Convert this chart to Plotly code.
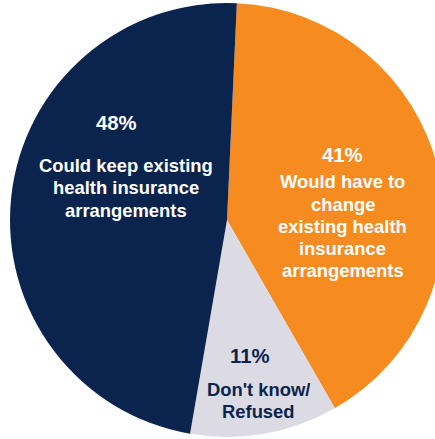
import plotly.graph_objects as go

# Data
categories = ["Would have to change existing health insurance arrangements",
              "Don't know/ Refused",
              "Could keep existing health insurance arrangements"]
values = [41, 11, 48]
colors = ["#F68B1F", "#DCDBE3", "#0B244E"]

pct_labels = ["41%", "11%", "48%"]
label_lines = [
    ["Would have to", "change", "existing health", "insurance", "arrangements"],
    ["Don't know/", "Refused"],
    ["Could keep existing", "health insurance", "arrangements"],
]
text_colors = ["#FFFFFF", "#0B244E", "#FFFFFF"]

W, H = 454, 439

fig = go.Figure(go.Pie(
    labels=categories,
    values=values,
    marker=dict(colors=colors, line=dict(width=0)),
    sort=False,
    direction="clockwise",
    rotation=2.6,
    textinfo="none",
    hoverinfo="label+percent",
    domain=dict(x=[0, 1], y=[2 / H, 1 - 3 / H]),
    showlegend=False,
))

# label placement (pixel positions of text blocks)
pct_pos = [(342, 155), (250, 356), (116, 123)]
line_pos = [
    (342.5, [181.7, 204, 226.3, 248.7, 270.7]),
    (258.3, [389.3, 411.3]),
    (126, [165.7, 187.7, 210.3]),
]

font_family = "Arial, Liberation Sans, sans-serif"
annotations = []
for i in range(len(values)):
    px, py = pct_pos[i]
    annotations.append(dict(
        x=px / W, y=1 - py / H, xref="paper", yref="paper",
        text="<b>" + pct_labels[i] + "</b>", showarrow=False,
        xanchor="center", yanchor="middle",
        font=dict(family=font_family, size=20.3, color=text_colors[i]),
    ))
    lx, lys = line_pos[i]
    for line, ly in zip(label_lines[i], lys):
        annotations.append(dict(
            x=lx / W, y=1 - ly / H, xref="paper", yref="paper",
            text="<b>" + line + "</b>", showarrow=False,
            xanchor="center", yanchor="middle",
            font=dict(family=font_family, size=18.4, color=text_colors[i]),
        ))

fig.update_layout(
    width=W, height=H,
    margin=dict(l=0, r=0, t=0, b=0),
    paper_bgcolor="white",
    plot_bgcolor="white",
    annotations=annotations,
)

fig.write_html(
    "out.html",
    config={"displayModeBar": False},
    post_script="document.body.style.margin='0';document.body.style.overflow='hidden';document.documentElement.style.overflow='hidden';",
)
